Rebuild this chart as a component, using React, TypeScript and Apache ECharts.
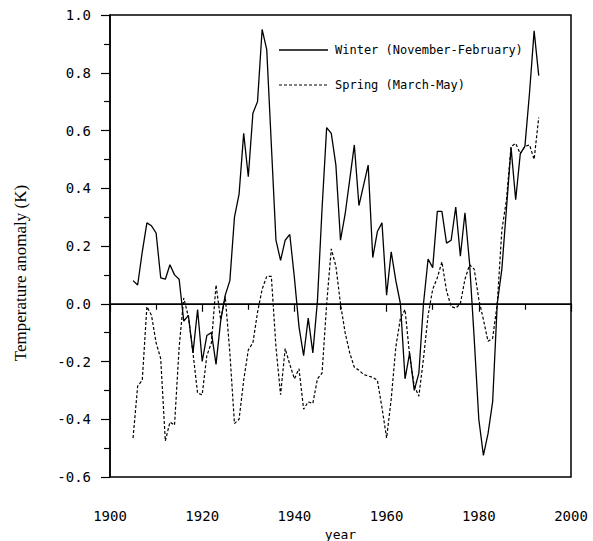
import React, { useEffect, useRef } from "react";
import * as echarts from "echarts";

const years: number[] = [];
for (let y = 1905; y <= 1993; y++) years.push(y);

const winter = [
  0.08, 0.065, 0.18, 0.28, 0.27, 0.245, 0.09, 0.085, 0.135, 0.1,
  0.085, -0.06, -0.04, -0.17, -0.02, -0.2, -0.11, -0.1, -0.21, -0.06,
  0.03, 0.08, 0.3, 0.38, 0.59, 0.44, 0.66, 0.7, 0.95, 0.88,
  0.55, 0.22, 0.15, 0.22, 0.24, 0.09, -0.08, -0.18, -0.05, -0.17,
  0.01, 0.33, 0.61, 0.59, 0.48, 0.22, 0.31, 0.43, 0.55, 0.34,
  0.41, 0.48, 0.16, 0.25, 0.28, 0.03, 0.18, 0.08, 0.0, -0.26,
  -0.17, -0.3, -0.24, 0.0, 0.155, 0.125, 0.32, 0.32, 0.21, 0.22,
  0.335, 0.165, 0.315, 0.14, -0.12, -0.4, -0.525, -0.45, -0.34, 0.0,
  0.12, 0.33, 0.54, 0.36, 0.52, 0.545, 0.73, 0.945, 0.79,
];

const spring = [
  -0.465, -0.285, -0.265, -0.01, -0.04, -0.135, -0.19, -0.475, -0.41, -0.42,
  -0.15, 0.02, -0.045, -0.17, -0.31, -0.315, -0.18, -0.135, 0.065, -0.055,
  0.025, -0.17, -0.415, -0.4, -0.265, -0.16, -0.135, -0.03, 0.05, 0.095,
  0.095, -0.15, -0.315, -0.155, -0.21, -0.26, -0.225, -0.365, -0.34, -0.345,
  -0.26, -0.24, 0.0, 0.19, 0.13, 0.0, -0.1, -0.17, -0.22, -0.23,
  -0.245, -0.25, -0.255, -0.265, -0.36, -0.465, -0.33, -0.15, -0.05, -0.02,
  -0.18, -0.285, -0.32, -0.19, -0.04, 0.05, 0.09, 0.145, 0.045, -0.01,
  -0.015, 0.0, 0.085, 0.135, 0.12, 0.015, -0.055, -0.13, -0.12, 0.0,
  0.255, 0.36, 0.545, 0.555, 0.52, 0.545, 0.55, 0.5, 0.645,
];

const seriesNames = ["Winter (November-February)", "Spring (March-May)"];
const yAxisTitle = "Temperature anomaly (K)";
const xAxisTitle = "year";

const MONO = "'DejaVu Sans Mono', monospace";
const SERIF = "'Liberation Serif', 'DejaVu Serif', serif";
const SPRING_DASH = [3, 2];

export default function App() {
  const ref = useRef<HTMLDivElement>(null);
  useEffect(() => {
    if (!ref.current) return;
    const chart = echarts.init(ref.current, undefined, { renderer: "svg" });
    chart.setOption({
      animation: false,
      backgroundColor: "#fff",
      grid: {
        left: 110,
        right: 22,
        top: 15,
        bottom: 64,
        containLabel: false,
        outerBoundsMode: "none",
        show: true,
        borderColor: "#000",
        borderWidth: 1.5,
      },
      graphic: [
        {
          type: "line",
          shape: { x1: 279, y1: 50, x2: 328, y2: 50 },
          style: { stroke: "#000", lineWidth: 1.3 },
        },
        {
          type: "text",
          x: 335,
          y: 50,
          style: {
            text: seriesNames[0],
            font: "12px " + MONO,
            fill: "#000",
            verticalAlign: "middle",
          },
        },
        {
          type: "line",
          shape: { x1: 279, y1: 85, x2: 328, y2: 85 },
          style: { stroke: "#000", lineWidth: 1.2, lineDash: SPRING_DASH },
        },
        {
          type: "text",
          x: 335,
          y: 85,
          style: {
            text: seriesNames[1],
            font: "12px " + MONO,
            fill: "#000",
            verticalAlign: "middle",
          },
        },
        {
          type: "text",
          x: 20,
          y: 273,
          rotation: Math.PI / 2,
          style: {
            text: yAxisTitle,
            font: "17px " + SERIF,
            fill: "#000",
            align: "center",
            verticalAlign: "middle",
          },
        },
      ],
      xAxis: {
        type: "value",
        min: 1900,
        max: 2000,
        interval: 20,
        name: xAxisTitle,
        nameLocation: "middle",
        nameGap: 44,
        nameTextStyle: { fontFamily: MONO, fontSize: 13, color: "#000" },
        axisLine: { show: true, lineStyle: { color: "#000", width: 1.5 } },
        axisTick: { show: true, inside: false, length: 8, lineStyle: { color: "#000", width: 1.2 } },
        minorTick: { show: true, splitNumber: 2, length: 6, lineStyle: { color: "#000", width: 1.2 } },
        axisLabel: {
          fontFamily: MONO,
          fontSize: 14,
          color: "#000",
          margin: 32,
          formatter: (v: number) => String(v),
        },
        splitLine: { show: false },
      },
      yAxis: {
        type: "value",
        min: -0.6,
        max: 1.0,
        interval: 0.2,
        axisLine: { show: true, lineStyle: { color: "#000", width: 1.5 } },
        axisTick: { show: true, inside: false, length: 9, lineStyle: { color: "#000", width: 1.2 } },
        minorTick: { show: true, splitNumber: 2, length: 6, lineStyle: { color: "#000", width: 1.2 } },
        axisLabel: {
          fontFamily: MONO,
          fontSize: 14,
          color: "#000",
          margin: 19,
          formatter: (v: number) => v.toFixed(1),
        },
        splitLine: { show: false },
      },
      series: [
        {
          name: seriesNames[0],
          type: "line",
          data: years.map((y, i) => [y, winter[i]]),
          symbol: "none",
          lineStyle: { color: "#000", width: 1.3, type: "solid" },
          itemStyle: { color: "#000" },
          markLine: {
            silent: true,
            symbol: ["none", "none"],
            label: { show: false },
            lineStyle: { color: "#000", width: 1.2, type: "solid" },
            data: [{ yAxis: 0 }],
          },
        },
        {
          name: seriesNames[1],
          type: "line",
          data: years.map((y, i) => [y, spring[i]]),
          symbol: "none",
          lineStyle: { color: "#000", width: 1.2, type: SPRING_DASH },
          itemStyle: { color: "#000" },
        },
      ],
    });
    return () => chart.dispose();
  }, []);
  return (
    <div
      ref={ref}
      style={{ position: "absolute", left: 0, top: 0, width: 593, height: 541 }}
    />
  );
}
